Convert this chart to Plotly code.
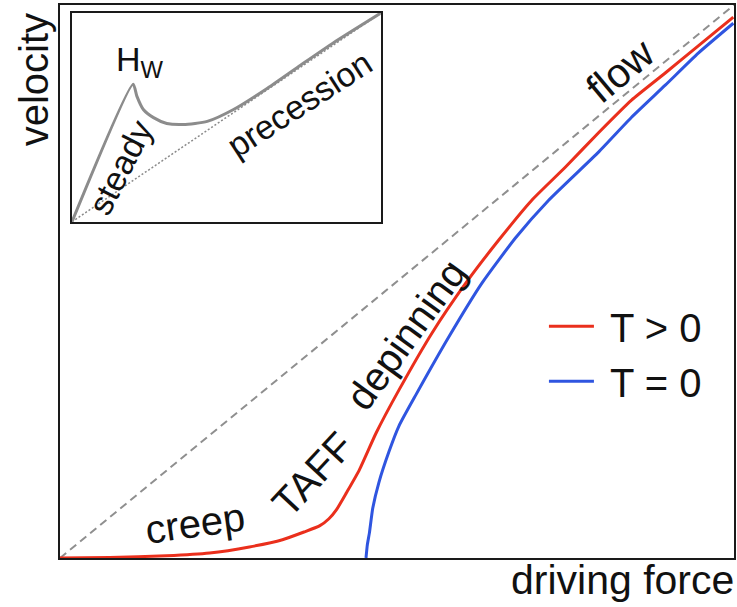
import plotly.graph_objects as go

# ---- main panel data (normalised driving force / velocity) ----
red_x = [0.000, 0.074, 0.158, 0.222, 0.281, 0.330, 0.362, 0.385, 0.399, 0.410, 0.425,
         0.444, 0.469, 0.503, 0.552, 0.602, 0.651, 0.700, 0.750, 0.799, 0.848, 0.898,
         0.947, 0.999]
red_y = [0.000, 0.001, 0.004, 0.009, 0.020, 0.033, 0.047, 0.058, 0.071, 0.087, 0.118,
         0.159, 0.226, 0.304, 0.407, 0.497, 0.575, 0.647, 0.707, 0.769, 0.828, 0.877,
         0.926, 0.978]

blue_x = [0.454, 0.456, 0.459, 0.464, 0.473, 0.488, 0.503, 0.528, 0.577, 0.626, 0.676,
          0.725, 0.799, 0.848, 0.898, 0.947, 0.999]
blue_y = [0.000, 0.024, 0.045, 0.090, 0.136, 0.192, 0.239, 0.295, 0.400, 0.497, 0.579,
          0.647, 0.734, 0.797, 0.855, 0.913, 0.967]

diag_x = [0.0, 1.0]
diag_y = [0.0, 1.0]

# ---- inset data ----
inset_x = [0.0, 0.198, 0.210, 0.231, 0.264, 0.307, 0.360, 0.438, 0.523, 0.633, 0.740,
           0.847, 1.0]
inset_y = [0.0, 0.659, 0.602, 0.538, 0.499, 0.471, 0.466, 0.481, 0.538, 0.640, 0.750,
           0.858, 1.0]
inset_diag_x = [0.0, 1.0]
inset_diag_y = [0.0, 1.0]

legend_names = ["&nbsp;T &gt; 0", "&nbsp;T = 0"]

FONT = "Liberation Sans, Arial, sans-serif"
RED = "#ea2f1c"
BLUE = "#2f55e0"

fig = go.Figure()

fig.add_trace(go.Scatter(x=diag_x, y=diag_y, mode="lines", showlegend=False,
                         line=dict(color="#8f8f8f", width=2, dash="8px,5px"),
                         hoverinfo="skip"))
fig.add_trace(go.Scatter(x=red_x, y=red_y, mode="lines", name=legend_names[0],
                         line=dict(color=RED, width=3, shape="spline", smoothing=0.5)))
fig.add_trace(go.Scatter(x=blue_x, y=blue_y, mode="lines", name=legend_names[1],
                         line=dict(color=BLUE, width=3, shape="spline", smoothing=0.5)))

fig.add_trace(go.Scatter(x=inset_diag_x, y=inset_diag_y, mode="lines", showlegend=False,
                         xaxis="x2", yaxis="y2",
                         line=dict(color="#8a8a8a", width=1.5, dash="2px,2px")))
fig.add_trace(go.Scatter(x=inset_x, y=inset_y, mode="lines", showlegend=False,
                         xaxis="x2", yaxis="y2",
                         line=dict(color="#8c8c8c", width=3, shape="spline", smoothing=0.6)))

axis_common = dict(showgrid=False, zeroline=False, showticklabels=False, ticks="",
                   showline=True, linecolor="#1a1a1a", linewidth=2, mirror=True,
                   fixedrange=True)

fig.update_layout(
    width=737, height=607,
    margin=dict(l=60, r=1, t=5, b=49),
    paper_bgcolor="white", plot_bgcolor="white",
    font=dict(family=FONT, color="#111111", size=40),
    xaxis=dict(range=[0, 1], domain=[0, 1], **axis_common),
    yaxis=dict(range=[0, 1], domain=[0, 1], **axis_common),
    xaxis2=dict(range=[0, 1], domain=[0.0178, 0.476], anchor="y2", **axis_common),
    yaxis2=dict(range=[0, 1], domain=[0.608, 0.9855], anchor="x2", **axis_common),
    legend=dict(x=0.718, y=0.478, xanchor="left", yanchor="top",
                font=dict(family=FONT, size=40, color="#111111"),
                bgcolor="rgba(0,0,0,0)", itemwidth=45, tracegroupgap=0),
    showlegend=True,
)

ann = []
def txt(text, x, y, angle=0, size=40, xref="x", yref="y", **kw):
    ann.append(dict(text=text, x=x, y=y, xref=xref, yref=yref, showarrow=False,
                    textangle=angle, font=dict(family=FONT, size=size, color="#111111"),
                    xanchor="center", yanchor="middle", **kw))

txt("creep", 0.201, 0.063, angle=-8, size=40)
txt("TAFF", 0.375, 0.152, angle=-47, size=40)
txt("depinning", 0.514, 0.405, angle=-54, size=40)
txt("flow", 0.831, 0.880, angle=-40, size=41)

txt("steady", 0.157, 0.262, angle=-63, size=34, xref="x2", yref="y2")
txt("precession", 0.736, 0.565, angle=-33, size=34, xref="x2", yref="y2")
txt("H<sub>W</sub>", 0.221, 0.768, size=34, xref="x2", yref="y2")

txt("velocity", -0.0385, 0.864, angle=-90, size=40, xref="paper", yref="paper")
txt("driving force", 0.835, -0.040, size=41, xref="paper", yref="paper")

fig.update_layout(annotations=ann)

fig.write_html("out.html")
